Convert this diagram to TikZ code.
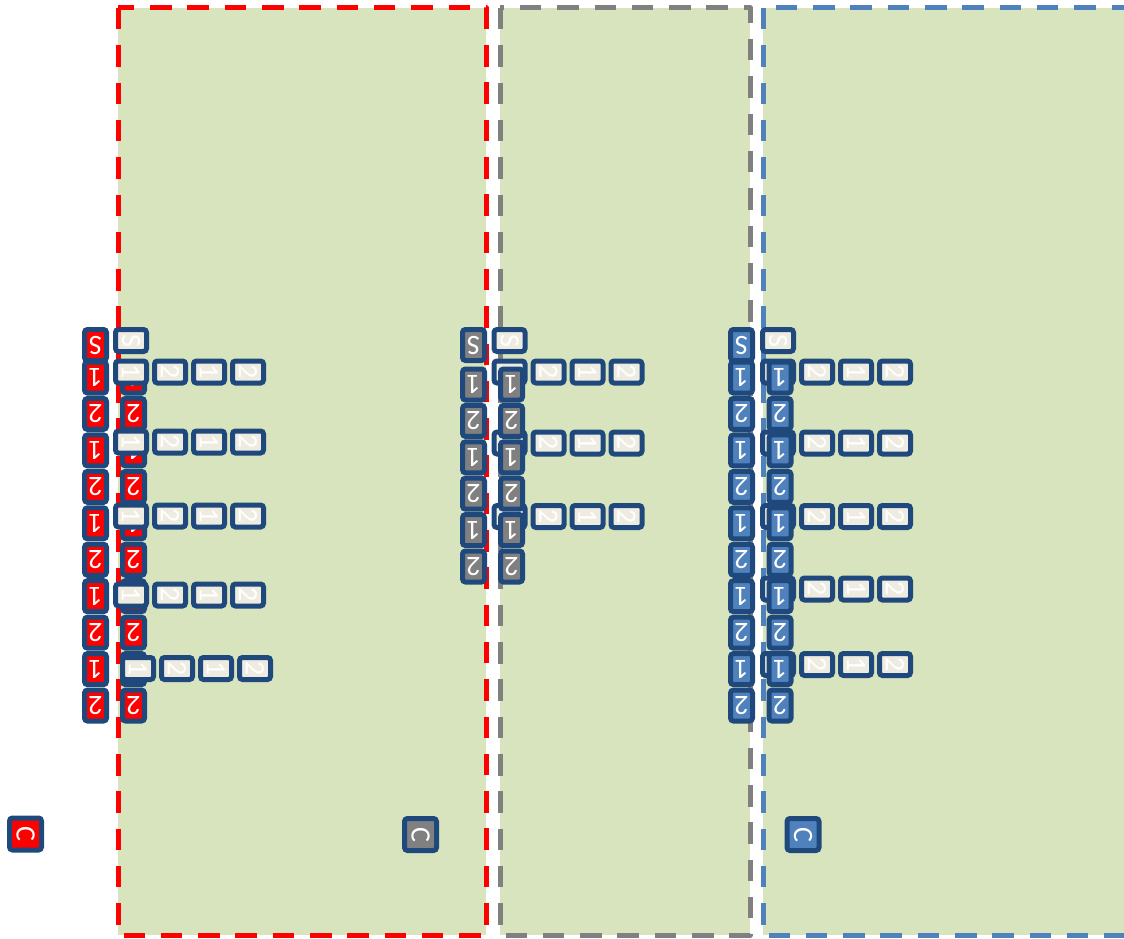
\documentclass[tikz,border=0pt]{standalone}
\usepackage{fontspec}
\newfontfamily\cellfont{Carlito}
\definecolor{cellline}{HTML}{1F497D}
\definecolor{zonefill}{HTML}{D7E4BD}
\definecolor{beige}{HTML}{EEECE1}
\definecolor{zonered}{HTML}{FF0000}
\definecolor{zonegray}{HTML}{808080}
\definecolor{zoneblue}{HTML}{4F81BD}
\tikzset{
  zone/.style={fill=zonefill, line width=5pt, dash pattern=on 21.5pt off 15.8pt, line join=round},
  cell/.style={draw=cellline, line width=5pt, rounded corners=3pt, inner sep=0pt, text=white,
    font=\cellfont\fontsize{28}{28}\selectfont},
  vcell/.style={cell, minimum width=22pt, minimum height=31pt},
  hcell/.style={cell, fill=beige, minimum width=31pt, minimum height=22pt},
  ccell/.style={cell, minimum width=32pt, minimum height=32pt},
}
\newcommand{\up}[1]{\rotatebox{180}{#1}}
\newcommand{\side}[1]{\rotatebox{-90}{#1}}

\begin{document}
\begin{tikzpicture}[x=1pt, y=-1pt]
            \useasboundingbox (0,0) rectangle (1124,939);
            \clip (0,0) rectangle (1124,939);
            \draw[zone, draw=zonered] (118,8) rectangle (486,935);
            \draw[zone, draw=zonegray] (500,8) rectangle (750,935);
            \draw[zone, draw=zoneblue] (763,8) rectangle (1140,935);
            \node[vcell, fill=zonered] (rS) at (95.5,345) {\up{S}};
            \foreach \k in {0,...,9}{
              \pgfmathtruncatemacro{\lab}{mod(\k,2)+1}
              \node[vcell, fill=zonered] (ra\k) at (95.5,{377.5+36.45*\k}) {\up{\lab}};
              \node[vcell, fill=zonered] (rb\k) at (133.5,{377.5+36.45*\k}) {\up{\lab}};
            }
            \node[hcell] (rs) at (131,340.5) {\side{S}};
            \foreach \r/\y/\dx in {1/372/0, 2/442/0, 3/516/0, 4/595/0, 5/668.5/7}
              \foreach \i/\lab in {0/1, 1/2, 2/1, 3/2}
                \node[hcell] (r\r\i) at ({131+\dx+39*\i},\y) {\side{\lab}};
            \node[vcell, fill=zonegray] (gS) at (473.5,345) {\up{S}};
            \node[hcell] (gs) at (509.5,340.5) {\side{S}};
            \foreach \r/\y in {1/372, 2/443, 3/516.5}
              \foreach \i/\lab in {0/1, 1/2, 2/1, 3/2}
                \node[hcell] (g\r\i) at ({509.5+39*\i},\y) {\side{\lab}};
            \foreach \k in {0,...,5}{
              \pgfmathtruncatemacro{\lab}{mod(\k,2)+1}
              \node[vcell, fill=zonegray] (ga\k) at (473.5,{384.5+36.4*\k}) {\up{\lab}};
              \node[vcell, fill=zonegray] (gb\k) at (511.5,{384.5+36.4*\k}) {\up{\lab}};
            }
            \node[vcell, fill=zoneblue] (bS) at (741.5,345) {\up{S}};
            \node[hcell] (bs) at (778,340.5) {\side{S}};
            \foreach \r/\y in {1/372, 2/443, 3/516.5, 4/589, 5/664.5}
              \foreach \i/\lab in {0/1, 1/2, 2/1, 3/2}
                \node[hcell] (b\r\i) at ({778+39*\i},\y) {\side{\lab}};
            \foreach \k in {0,...,9}{
              \pgfmathtruncatemacro{\lab}{mod(\k,2)+1}
              \node[vcell, fill=zoneblue] (ba\k) at (741.5,{377.5+36.45*\k}) {\up{\lab}};
              \node[vcell, fill=zoneblue] (bb\k) at (780,{377.5+36.45*\k}) {\up{\lab}};
            }
            \node[ccell, fill=zonered] (rc) at (25.5,834) {\side{C}};
            \node[ccell, fill=zonegray] (gc) at (420.5,834.5) {\side{C}};
            \node[ccell, fill=zoneblue] (bc) at (803,834.5) {\side{C}};
\end{tikzpicture}
\end{document}
